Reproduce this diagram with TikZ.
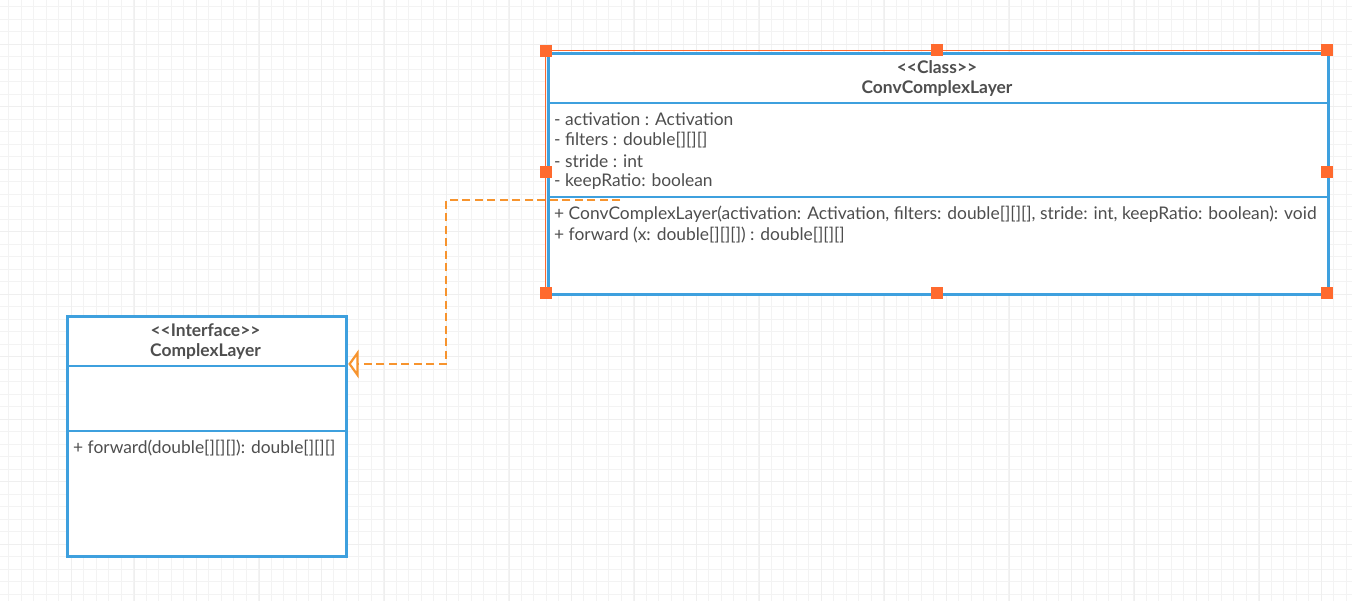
\documentclass[tikz,border=0pt]{standalone}
\usepackage{fontspec}
\setmainfont{Lato}
\usetikzlibrary{arrows.meta}
\definecolor{umlblue}{RGB}{62,160,222}
\definecolor{selorange}{RGB}{255,106,46}
\definecolor{linkorange}{RGB}{247,148,46}
\definecolor{txtgray}{RGB}{78,78,78}
\definecolor{gridminor}{RGB}{243,243,243}
\definecolor{gridmajor}{RGB}{239,239,239}
\begin{document}
\begin{tikzpicture}[x=1pt,y=-1pt,
  umlbox/.style={draw=umlblue,line width=2.6pt,fill=white,rectangle,inner sep=0pt,anchor=north west},
  sep/.style={draw=umlblue,line width=2.6pt},
  txt/.style={font=\fontsize{17.4}{20}\selectfont,text=txtgray,inner sep=0pt,anchor=west},
  hdr/.style={font=\fontsize{17.4}{20}\selectfont\bfseries,text=txtgray,inner sep=0pt},
  handle/.style={fill=selorange,draw=none,minimum size=11.5pt,inner sep=0pt,rectangle},
  link/.style={draw=linkorange,line width=2.2pt,dash pattern=on 8pt off 4.5pt},
]
\useasboundingbox (0,0) rectangle (1352,601);
\fill[white] (0,0) rectangle (1352,601);
% grid
\foreach \i in {0,...,108} {
  \draw[gridminor,line width=0.8pt] (8.4+12.5*\i,0) -- (8.4+12.5*\i,601);
}
\foreach \j in {0,...,48} {
  \draw[gridminor,line width=0.8pt] (0,6.7+12.5*\j) -- (1352,6.7+12.5*\j);
}
\foreach \i in {0,...,21} {
  \draw[gridmajor,line width=0.8pt] (71.7+62.5*\i,0) -- (71.7+62.5*\i,601);
}
\foreach \j in {0,...,9} {
  \draw[gridmajor,line width=0.8pt] (0,44.2+62.5*\j) -- (1352,44.2+62.5*\j);
}

% ---- Class box ----
\draw[selorange,line width=1pt] (545.3,50.3) rectangle (1328.7,294.7);
\node[umlbox,minimum width=780pt,minimum height=241pt] (cls) at (547,52) {};
\draw[sep] (547,103) -- (1327,103);
\draw[sep] (547,197) -- (1327,197);
\node[hdr] (clsst) at (937,67) {{<}{<}Class{>}{>}};
\node[hdr] (clsname) at (937,88) {ConvComplexLayer};
\node[txt] (a1) at (554,119) {- activation : Activation};
\node[txt] (a2) at (554,140) {- filters : double[][][]};
\node[txt] (a3) at (554,161) {- stride : int};
\node[txt] (a4) at (554,182) {- keepRatio: boolean};
\node[txt] (m1) at (554,214) {+ ConvComplexLayer(activation: Activation, filters: double[][][], stride: int, keepRatio: boolean): void};
\node[txt] (m2) at (554,235) {+ forward (x: double[][][]) : double[][][]};

% ---- Interface box ----
\node[umlbox,minimum width=279pt,minimum height=240pt] (ifc) at (66,315) {};
\draw[sep] (66,366) -- (345,366);
\draw[sep] (66,431) -- (345,431);
\node[hdr] (ifcst) at (205.5,330) {{<}{<}Interface{>}{>}};
\node[hdr] (ifcname) at (205.5,351) {ComplexLayer};
\node[txt] (im1) at (73,448) {+ forward(double[][][]): double[][][]};

% ---- realization connector ----
\coordinate (start) at (620,200);
\coordinate (tip) at (ifc.north east |- 0,364);
\draw[link] (start) -- (446,200) -- (446,364) -- (358,364);
\draw[linkorange,line width=2.2pt,fill=white,line join=miter] (357.5,353) -- (357.5,375) -- ([xshift=2pt]tip) -- cycle;

% ---- selection handles ----
\node[handle] (h1) at (546,51) {};
\node[handle] (h2) at (937,50) {};
\node[handle] (h3) at (1327,50) {};
\node[handle] (h4) at (546,172) {};
\node[handle] (h5) at (1327,172) {};
\node[handle] (h6) at (546,293) {};
\node[handle] (h7) at (937,293) {};
\node[handle] (h8) at (1327,293) {};
\end{tikzpicture}
\end{document}
